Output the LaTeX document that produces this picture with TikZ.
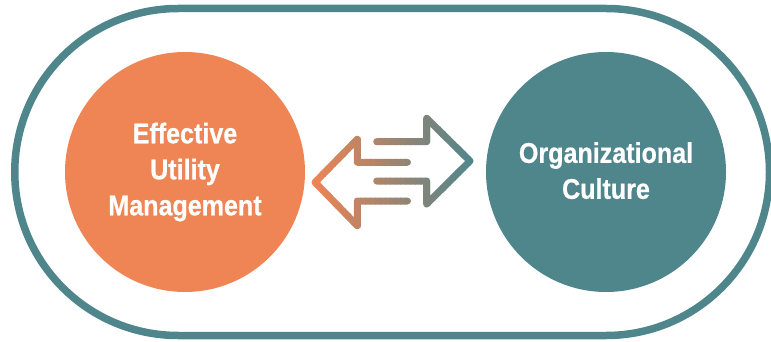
\documentclass[tikz,border=0pt]{standalone}
\usepackage{fontspec}
\setmainfont[FakeStretch=0.88, BoldFeatures={FakeBold=0.6}]{Liberation Sans}
\definecolor{utilorange}{HTML}{EF8454}
\definecolor{cultureteal}{HTML}{4F868C}
\tikzset{
  topic/.style={circle, minimum size=240, inner sep=0pt, text=white, align=center, font=\fontsize{28.5}{36}\selectfont\bfseries},
  arrowline/.style={line width=7, line cap=round, line join=round}
}
\begin{document}
\begin{tikzpicture}[x=1pt, y=-1pt]
    \useasboundingbox (0,0) rectangle (771,342);
    \draw[cultureteal, line width=7.5, rounded corners=163.5] (14.75,8.5) rectangle (769.5,335.5);

    \node[topic, fill=utilorange] (utility) at (185,172) {Effective\\Utility\\Management};
    \node[topic, fill=cultureteal, text depth=3] (culture) at (606,172) {Organizational\\Culture};

    \foreach \i in {0,...,32} {
        \pgfmathsetmacro{\pct}{100*(\i/32)}
        \begin{scope}
            \clip ({310+5*\i},100) rectangle ({315.5+5*\i},240);
            \draw[arrowline, color=cultureteal!\pct!utilorange] (376.7,141.7) -- (426.7,141.7) -- (426.7,118.3) -- (470,161) -- (426.7,204) -- (426.7,181) -- (376.7,181); % right arrow
            \draw[arrowline, color=cultureteal!\pct!utilorange] (407.3,162.3) -- (357.3,162.3) -- (357.3,139.3) -- (315,182.3) -- (357.3,225.7) -- (357.3,201) -- (407.3,201); % left arrow
        \end{scope}
    }
\end{tikzpicture}
\end{document}
